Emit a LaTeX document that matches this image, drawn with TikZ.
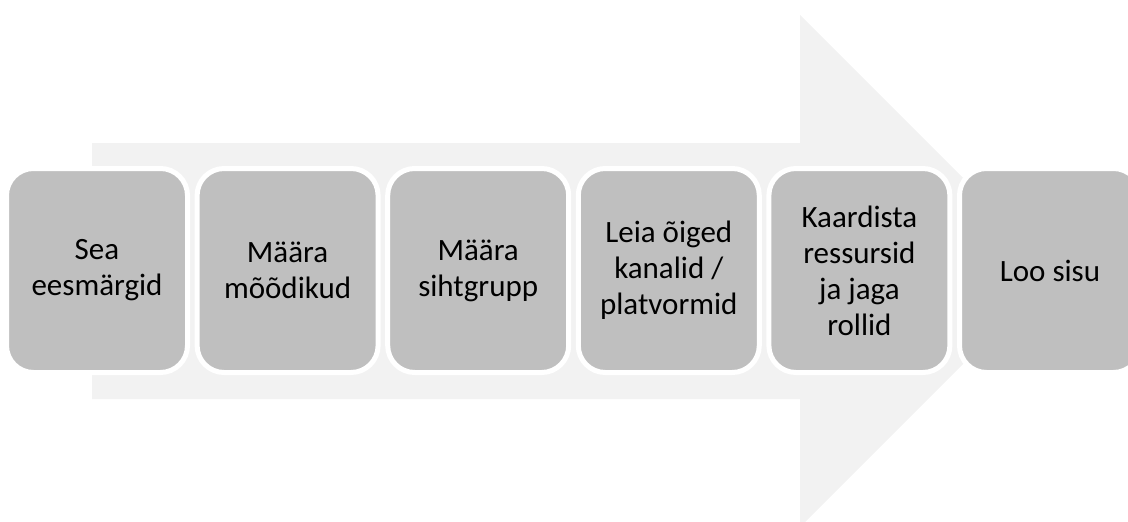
\documentclass[tikz,border=0pt]{standalone}
\usepackage{fontspec}
\setmainfont{Carlito}
\definecolor{arrowgray}{HTML}{F2F2F2}
\definecolor{boxgray}{HTML}{BFBFBF}
\begin{document}
\begin{tikzpicture}[x=1pt,y=-1pt,
  stepbox/.style={draw=white,line width=5pt,fill=boxgray,rounded corners=27pt,
    minimum width=181pt,minimum height=204pt,inner sep=0pt,
    align=center,
    font=\fontsize{31pt}{36pt}\selectfont}]
\useasboundingbox (0,0) rectangle (1128,522);
\clip (0,0) rectangle (1128,522);
\fill[arrowgray] (92,143) -- (800,143) -- (800,15) -- (1056,271) -- (800,527) -- (800,399) -- (92,399) -- cycle;
\node[stepbox] (s1) at (97,270.5) {Sea\\eesmärgid};
\node[stepbox] (s2) at (287.6,270.5) {Määra\\mõõdikud};
\node[stepbox] (s3) at (478.2,270.5) {Määra\\sihtgrupp};
\node[stepbox] (s4) at (668.8,270.5) {Leia õiged\\kanalid /\\platvormid};
\node[stepbox] (s5) at (859.4,270.5) {Kaardista\\ressursid\\ja jaga\\rollid};
\node[stepbox] (s6) at (1050,270.5) {Loo sisu};
\end{tikzpicture}
\end{document}
